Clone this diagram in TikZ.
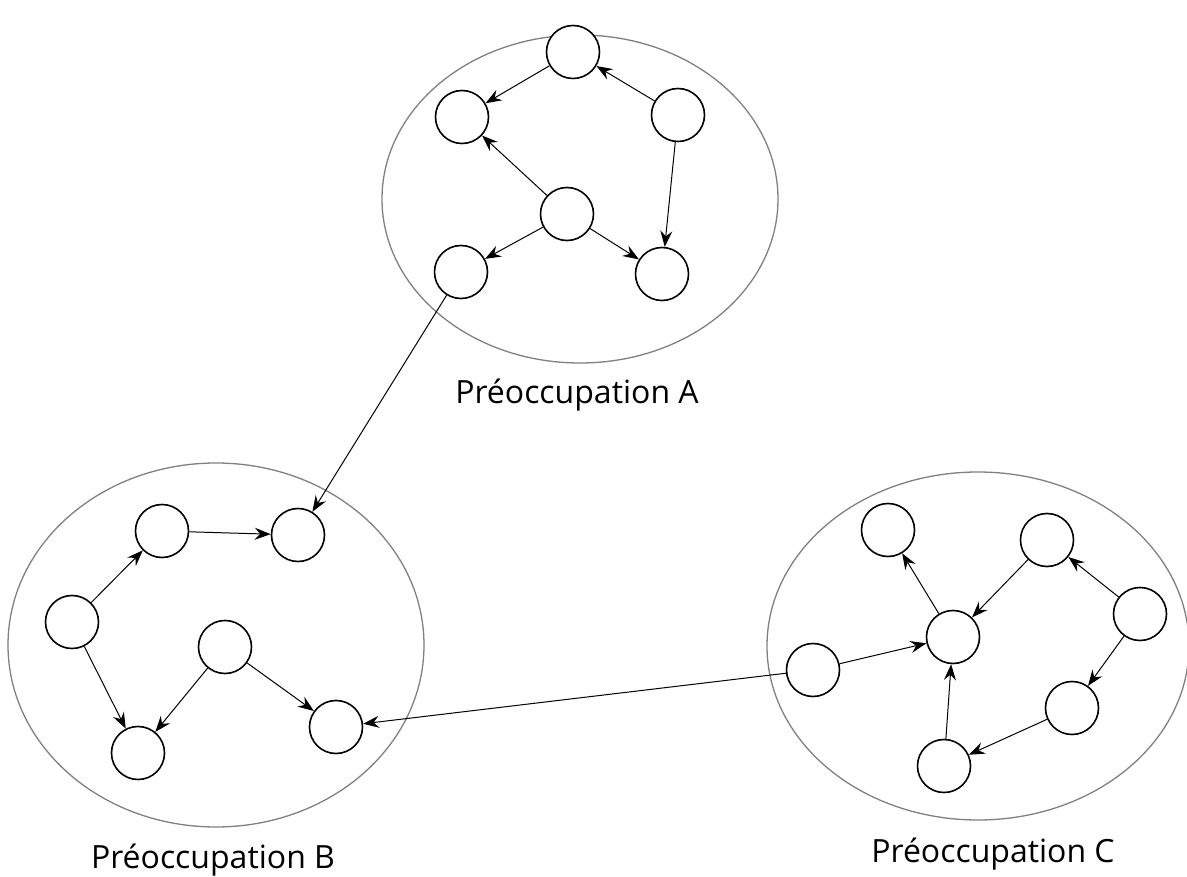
\documentclass[tikz,border=0pt]{standalone}
\usepackage{fontspec}
\setmainfont{Open Sans}
\usetikzlibrary{arrows.meta}
\begin{document}
\begin{tikzpicture}[x=1pt,y=-1pt,
  vtx/.style={circle,draw=black,line width=1.6pt,minimum size=53pt,inner sep=0pt,fill=white},
  grp/.style={draw=black!50,line width=1.3pt},
  edge/.style={draw=black,line width=1pt,-{Stealth[length=16pt,width=12pt,inset=5.5pt]}},
  lbl/.style={font=\fontsize{32}{38}\selectfont,anchor=base}]
\useasboundingbox (0,0) rectangle (1187,877);
% groups
\draw[grp] (580,199) ellipse [x radius=198, y radius=164];
\draw[grp] (216,645) ellipse [x radius=208, y radius=182];
\draw[grp] (978,646) ellipse [x radius=211, y radius=174];
% A
\node[vtx] (a1) at (573,52) {};
\node[vtx] (a2) at (462,117) {};
\node[vtx] (a3) at (678,115) {};
\node[vtx] (a4) at (567,214) {};
\node[vtx] (a5) at (461,272) {};
\node[vtx] (a6) at (662,274) {};
% B
\node[vtx] (b1) at (162,531) {};
\node[vtx] (b2) at (298,535) {};
\node[vtx] (b3) at (72,622) {};
\node[vtx] (b4) at (225,647) {};
\node[vtx] (b5) at (138,753) {};
\node[vtx] (b6) at (336,727) {};
% C
\node[vtx] (c1) at (888,530) {};
\node[vtx] (c2) at (1047,540) {};
\node[vtx] (c3) at (1140,614) {};
\node[vtx] (c4) at (953,637) {};
\node[vtx] (c5) at (813,670) {};
\node[vtx] (c6) at (1072,708) {};
\node[vtx] (c7) at (944,766) {};
% edges A
\draw[edge] (a3) -- (a1);
\draw[edge] (a1) -- (a2);
\draw[edge] (a4) -- (a2);
\draw[edge] (a3) -- (a6);
\draw[edge] (a4) -- (a5);
\draw[edge] (a4) -- (a6);
% edges B
\draw[edge] (b3) -- (b1);
\draw[edge] (b1) -- (b2);
\draw[edge] (b3) -- (b5);
\draw[edge] (b4) -- (b5);
\draw[edge] (b4) -- (b6);
% edges C
\draw[edge] (c4) -- (c1);
\draw[edge] (c2) -- (c4);
\draw[edge] (c3) -- (c2);
\draw[edge] (c5) -- (c4);
\draw[edge] (c3) -- (c6);
\draw[edge] (c6) -- (c7);
\draw[edge] (c7) -- (c4);
% cross
\draw[edge] (a5) -- (b2);
\draw[edge] (c5) -- (b6);
% labels
\node[lbl] (la) at (577,403) {Préoccupation A};
\node[lbl] (lb) at (213,868) {Préoccupation B};
\node[lbl] (lc) at (993,862) {Préoccupation C};
\end{tikzpicture}
\end{document}
